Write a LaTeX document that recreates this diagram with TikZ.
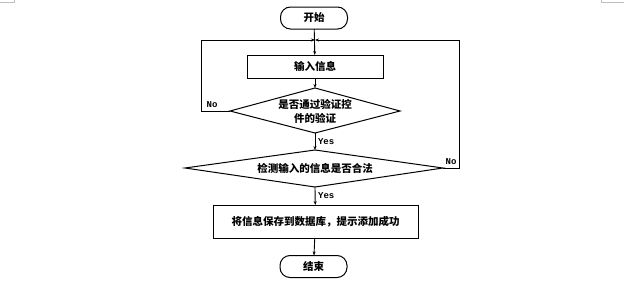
\documentclass[tikz,border=0pt]{standalone}
\usepackage{fontspec}
\newfontfamily\cjk{Noto Sans CJK SC}[BoldFont={* Black}]
\newfontfamily\lat{Liberation Mono}
\usetikzlibrary{shapes.geometric,arrows.meta}
\begin{document}
\begin{tikzpicture}[x=1pt,y=-1pt,
  every node/.style={inner sep=0pt,outer sep=0pt},
  term/.style={draw,line width=1pt,rounded corners=10pt,minimum width=67pt,minimum height=22pt,font=\cjk\bfseries\fontsize{10.5}{12}\selectfont},
  proc/.style={draw,line width=1pt,font=\cjk\bfseries\fontsize{10.5}{12}\selectfont},
  lbl/.style={font=\lat\bfseries\fontsize{9}{10}\selectfont},
  conn/.style={line width=0.9pt,-{Stealth[length=4pt,width=3pt]}},
  line/.style={line width=0.9pt}]
\useasboundingbox (0,0) rectangle (627,284);
\draw[gray!50,line width=0.6pt] (0,2.5) -- (14,2.5) -- (14,0);
\draw[gray!50,line width=0.6pt] (601,0) -- (601,2.5) -- (624,2.5);
\node[term] (start) at (314,18) {开始};
\node[proc,minimum width=136pt,minimum height=23pt] (input) at (315,66.5) {输入信息};
\coordinate (d1t) at (315,88); \coordinate (d1b) at (315,133);
\coordinate (d1l) at (230,111); \coordinate (d1r) at (400,111);
\draw[line width=1pt] (d1t) -- (d1r) -- (d1b) -- (d1l) -- cycle;
\node[font=\cjk\bfseries\fontsize{10.5}{14}\selectfont,align=center] (d1) at (315,111) {是否通过验证控\\件的验证};
\coordinate (d2t) at (315,150); \coordinate (d2b) at (315,187);
\coordinate (d2l) at (185,168); \coordinate (d2r) at (443,168);
\draw[line width=1pt] (d2t) -- (d2r) -- (d2b) -- (d2l) -- cycle;
\node[font=\cjk\bfseries\fontsize{10.5}{12}\selectfont] (d2) at (315,168) {检测输入的信息是否合法};
\node[proc,minimum width=205pt,minimum height=33pt] (save) at (315.5,221.5) {将信息保存到数据库，提示添加成功};
\node[term] (end) at (313.5,266.5) {结束};
\coordinate (j) at (315,40);
\coordinate (lt) at (201,40); \coordinate (lb) at (201,111);
\coordinate (rt) at (459,40); \coordinate (rb) at (459,168);
\draw[conn] (start) -- (input);
\draw[conn] (input) -- (d1t);
\draw[conn] (d1b) -- node[lbl,right=3pt]{Yes} (d2t);
\draw[conn] (d2b) -- node[lbl,right=3pt]{Yes} (save);
\draw[conn] (save) -- (end);
\draw[line] (d1l) -- (lb) -- (lt);
\draw[conn] (lt) -- (j);
\draw[line] (d2r) -- (rb) -- (rt);
\draw[conn] (rt) -- (j);
\node[lbl] (no1) at (212,105) {No};
\node[lbl] (no2) at (451,162) {No};
\end{tikzpicture}
\end{document}
